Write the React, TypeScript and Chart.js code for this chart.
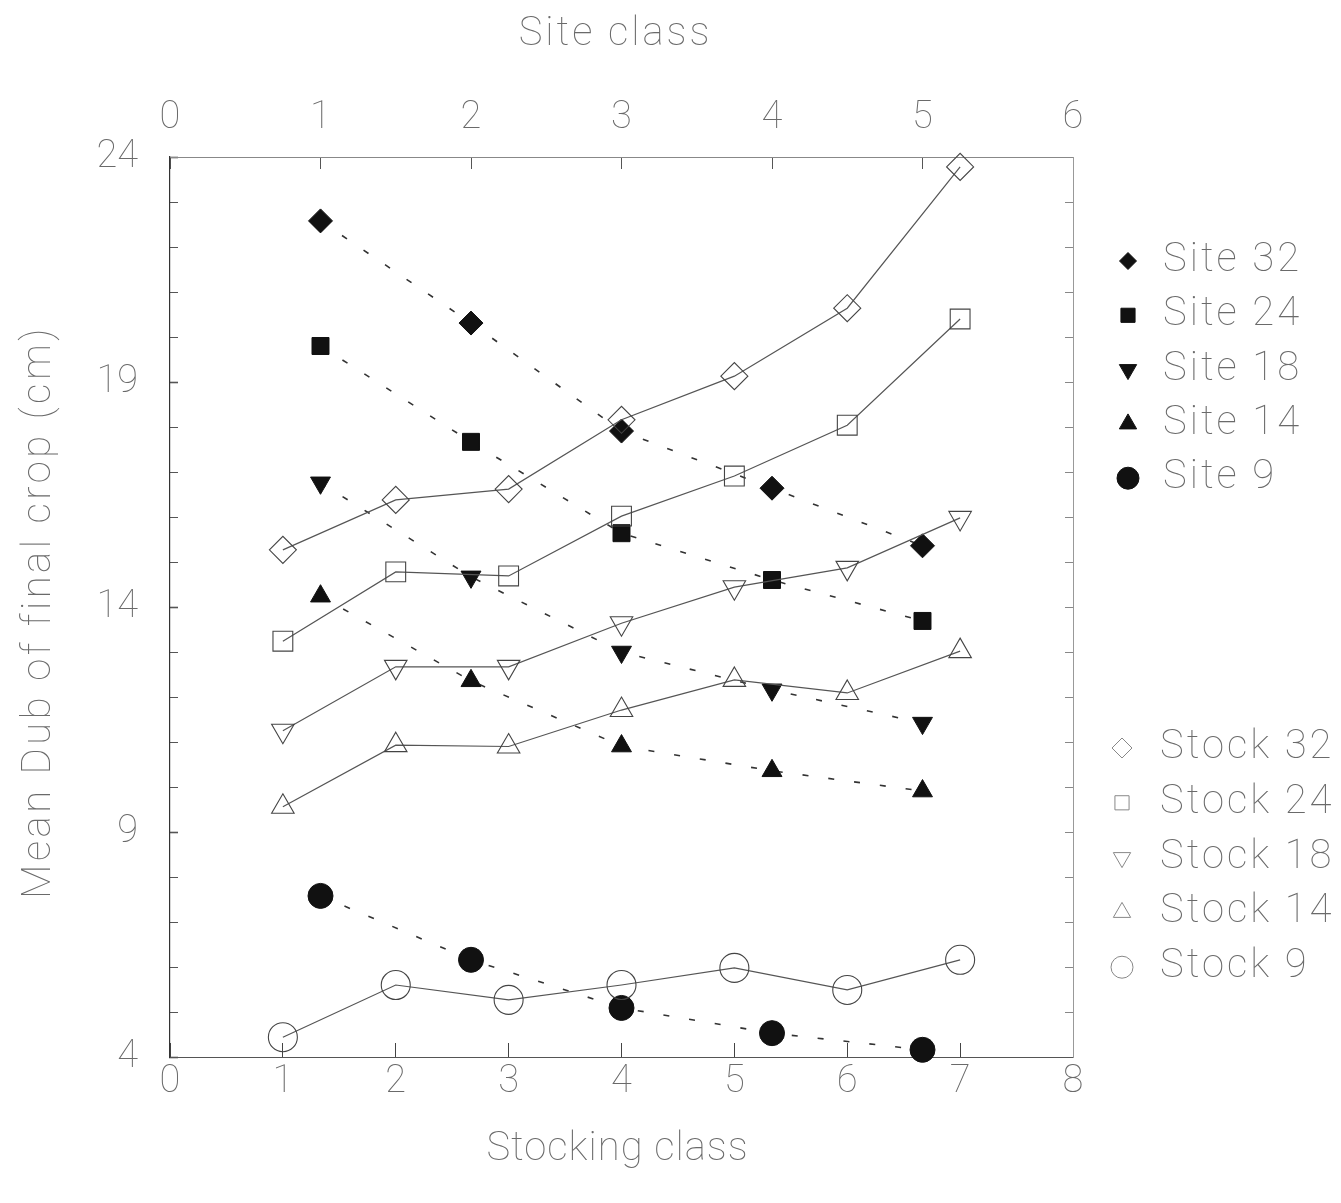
import { useEffect, useRef } from 'react';
import { Chart, registerables, PointElement } from 'chart.js';

Chart.register(...registerables);

// x positions of the two groups
const stockingClasses = [1, 2, 3, 4, 5, 6, 7];
const siteClasses = [1, 2, 3, 4, 5];

// Mean Dub (cm) by stocking class, one series per site index
const stock32 = [15.27, 16.38, 16.62, 18.16, 19.13, 20.64, 23.78];
const stock24 = [13.24, 14.78, 14.69, 16.02, 16.91, 18.04, 20.4];
const stock18 = [11.25, 12.67, 12.67, 13.64, 14.44, 14.87, 15.98];
const stock14 = [9.56, 10.93, 10.9, 11.71, 12.38, 12.09, 13.02];
const stock9 = [4.44, 5.6, 5.27, 5.6, 5.98, 5.49, 6.16];

// Mean Dub (cm) by site class, one series per stocking level
const site32 = [22.58, 20.31, 17.91, 16.64, 15.36];
const site24 = [19.8, 17.67, 15.64, 14.6, 13.69];
const site18 = [16.76, 14.67, 13.0, 12.16, 11.42];
const site14 = [14.24, 12.36, 10.91, 10.36, 9.91];
const site9 = [7.58, 6.16, 5.09, 4.53, 4.16];

// tick labels
const yTickLabels = [4, 9, 14, 19, 24];
const bottomTickLabels = [0, 1, 2, 3, 4, 5, 6, 7, 8];
const topTickLabels = [0, 1, 2, 3, 4, 5, 6];

const WIDTH = 1341;
const HEIGHT = 1203;
const FONT_FAMILY = 'Roboto, "Liberation Sans", Arial, sans-serif';
const FONT_WEIGHT = 100;
const INK = '#6a6a6a';

type Series = {
  label: string;
  values: number[];
  pointStyle: string;
  rotation: number;
  radius: number;
  legendRadius: number;
};

const stockSeries: Series[] = [
  { label: 'Stock 32', values: stock32, pointStyle: 'rectRot', rotation: 0, radius: 13.5, legendRadius: 10 },
  { label: 'Stock 24', values: stock24, pointStyle: 'rect', rotation: 0, radius: 14, legendRadius: 10 },
  { label: 'Stock 18', values: stock18, pointStyle: 'triangle', rotation: 180, radius: 13, legendRadius: 10 },
  { label: 'Stock 14', values: stock14, pointStyle: 'triangle', rotation: 0, radius: 13, legendRadius: 10 },
  { label: 'Stock 9', values: stock9, pointStyle: 'circle', rotation: 0, radius: 14.5, legendRadius: 11 },
];

const siteSeries: Series[] = [
  { label: 'Site 32', values: site32, pointStyle: 'rectRot', rotation: 0, radius: 12, legendRadius: 8.5 },
  { label: 'Site 24', values: site24, pointStyle: 'rect', rotation: 0, radius: 12, legendRadius: 10 },
  { label: 'Site 18', values: site18, pointStyle: 'triangle', rotation: 180, radius: 11.5, legendRadius: 10 },
  { label: 'Site 14', values: site14, pointStyle: 'triangle', rotation: 0, radius: 11.5, legendRadius: 10 },
  { label: 'Site 9', values: site9, pointStyle: 'circle', rotation: 0, radius: 12.5, legendRadius: 11 },
];

const toPoints = (xs: number[], ys: number[]) => ys.map((y, i) => ({ x: xs[i], y }));

function lightText(
  ctx: CanvasRenderingContext2D,
  text: string,
  x: number,
  y: number,
  size: number,
  spacing: number,
  align: CanvasTextAlign,
  angle = 0
) {
  ctx.save();
  ctx.translate(x, y);
  ctx.rotate(angle);
  ctx.font = `${FONT_WEIGHT} ${size}px ${FONT_FAMILY}`;
  (ctx as any).letterSpacing = `${spacing}px`;
  ctx.textAlign = align;
  ctx.textBaseline = 'middle';
  ctx.fillStyle = INK;
  ctx.fillText(text, 0, 0);
  ctx.restore();
}

// axis titles and the two side legends
const annotations = {
  id: 'annotations',
  afterDraw(chart: any) {
    const ctx: CanvasRenderingContext2D = chart.ctx;
    const area = chart.chartArea;
    const midX = (area.left + area.right) / 2;
    const midY = (area.top + area.bottom) / 2;

    lightText(ctx, 'Site class', midX - 6, 35, 40, 3, 'center');
    lightText(ctx, 'Stocking class', midX - 4, 1150, 40, 1, 'center');
    lightText(ctx, 'Mean Dub of final crop (cm)', 40, midY + 5, 40, 3.5, 'center', -Math.PI / 2);

    const whole = { left: 0, top: 0, right: chart.width, bottom: chart.height };
    const drawGroup = (
      list: Series[],
      markerX: number,
      textX: number,
      startY: number,
      step: number,
      filled: boolean
    ) => {
      list.forEach((s, i) => {
        const y = startY + i * step;
        ctx.save();
        ctx.setLineDash([]);
        const pt: any = new PointElement({} as any);
        pt.x = markerX;
        pt.y = y;
        pt.options = {
          pointStyle: s.pointStyle,
          rotation: s.rotation,
          radius: s.legendRadius,
          borderWidth: 1,
          borderColor: filled ? '#111' : '#888',
          backgroundColor: filled ? '#111' : 'rgba(0,0,0,0)',
        };
        pt.draw(ctx, whole);
        ctx.restore();
        lightText(ctx, s.label, textX, y, 40, 3, 'left');
      });
    };
    drawGroup(siteSeries, 1128, 1163, 261, 54.3, true);
    drawGroup(stockSeries, 1122, 1160, 748, 54.8, false);
  },
};

const tickFont = { family: FONT_FAMILY, size: 38, weight: FONT_WEIGHT };
const tickText = {
  font: tickFont,
  color: INK,
  maxRotation: 0,
  autoSkip: false,
};

export default function App() {
  const canvasRef = useRef<HTMLCanvasElement | null>(null);

  useEffect(() => {
    if (!canvasRef.current) return;

    const datasets: any[] = [
      ...stockSeries.map((s) => ({
        label: s.label,
        data: toPoints(stockingClasses, s.values),
        xAxisID: 'x',
        yAxisID: 'y',
        borderColor: '#555',
        borderWidth: 1.2,
        tension: 0,
        fill: false,
        clip: false,
        pointStyle: s.pointStyle,
        pointRotation: s.rotation,
        pointRadius: s.radius,
        pointHoverRadius: s.radius,
        pointBorderWidth: 1.1,
        pointBorderColor: '#444',
        pointBackgroundColor: 'rgba(0,0,0,0)',
      })),
      ...siteSeries.map((s) => ({
        label: s.label,
        data: toPoints(siteClasses, s.values),
        xAxisID: 'x2',
        yAxisID: 'y',
        borderColor: '#333',
        borderWidth: 1.6,
        borderDash: [6, 20],
        tension: 0,
        fill: false,
        clip: false,
        pointStyle: s.pointStyle,
        pointRotation: s.rotation,
        pointRadius: s.radius,
        pointHoverRadius: s.radius,
        pointBorderWidth: 1,
        pointBorderColor: '#111',
        pointBackgroundColor: '#111',
      })),
    ];

    const chart = new Chart(canvasRef.current, {
      type: 'line',
      data: { datasets },
      options: {
        animation: false,
        responsive: false,
        devicePixelRatio: 1,
        events: [],
        layout: { padding: 0 },
        plugins: {
          legend: { display: false },
          tooltip: { enabled: false },
          title: { display: false },
        },
        scales: {
          x: {
            type: 'linear',
            position: 'bottom',
            min: 0,
            max: 8,
            ticks: {
              ...tickText,
              stepSize: 1,
              padding: 17,
              callback: (v: any) => (bottomTickLabels.includes(v) ? String(v) : ''),
            },
            grid: { drawOnChartArea: false, tickLength: -14, tickColor: '#444', tickWidth: 1 },
            border: { display: true, color: '#555', width: 1, dash: [2, 1] },
            afterFit: (s: any) => {
              s.height = HEIGHT - 1057;
            },
          },
          x2: {
            type: 'linear',
            position: 'top',
            min: 0,
            max: 6,
            ticks: {
              ...tickText,
              stepSize: 1,
              padding: 28,
              callback: (v: any) => (topTickLabels.includes(v) ? String(v) : ''),
            },
            grid: { drawOnChartArea: false, tickLength: -12, tickColor: '#555', tickWidth: 1 },
            border: { display: true, color: '#888', width: 1, dash: [4, 2] },
            afterFit: (s: any) => {
              s.height = 157;
            },
          },
          y: {
            type: 'linear',
            position: 'left',
            min: 4,
            max: 24,
            ticks: {
              ...tickText,
              stepSize: 1,
              padding: 40,
              callback: (v: any) => (yTickLabels.includes(v) ? String(v) : ''),
            },
            grid: {
              drawOnChartArea: false,
              tickLength: -8,
              tickColor: '#555',
              tickWidth: (c: any) => (c.tick && yTickLabels.includes(c.tick.value) ? 1.6 : 1),
            },
            border: { display: true, color: '#333', width: 1.2, dash: [6, 1] },
            afterFit: (s: any) => {
              s.width = 170;
            },
          },
          yR: {
            type: 'linear',
            position: 'right',
            display: true,
            min: 4,
            max: 24,
            ticks: { stepSize: 1, display: false },
            grid: { drawOnChartArea: false, tickLength: -8, tickColor: '#888', tickWidth: 1 },
            border: { display: true, color: '#999', width: 1, dash: [2, 2] },
            afterFit: (s: any) => {
              s.width = WIDTH - 1073;
            },
          },
        },
      } as any,
      plugins: [annotations],
    });

    return () => chart.destroy();
  }, []);

  return (
    <div style={{ position: 'absolute', left: 0, top: 0, width: WIDTH, height: HEIGHT, background: '#fff' }}>
      <canvas
        ref={canvasRef}
        width={WIDTH}
        height={HEIGHT}
        style={{ display: 'block', width: WIDTH, height: HEIGHT }}
      />
    </div>
  );
}
